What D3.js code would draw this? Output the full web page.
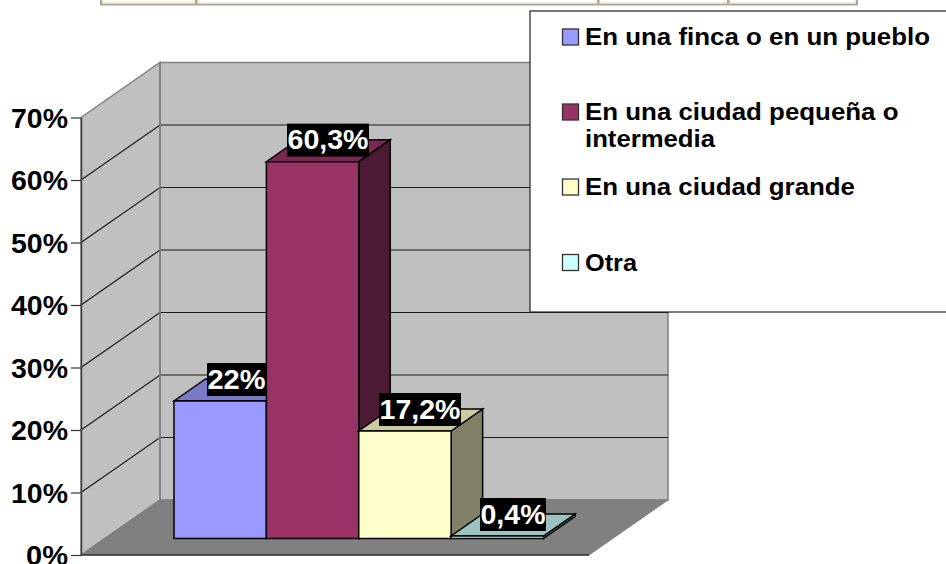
<!DOCTYPE html>
<html>
<head>
<meta charset="utf-8">
<script src="https://cdnjs.cloudflare.com/ajax/libs/d3/7.8.5/d3.min.js"></script>
<style>
html,body{margin:0;padding:0;background:#fff;overflow:hidden}
svg{display:block}
text{font-family:"Liberation Sans",Arial,sans-serif;font-weight:bold}
</style>
</head>
<body>
<script>
const categories = ["En una finca o en un pueblo", "En una ciudad pequeña o intermedia", "En una ciudad grande", "Otra"];
const values = [22, 60.3, 17.2, 0.4];
const valueLabels = ["22%", "60,3%", "17,2%", "0,4%"];
const faceColors = ["#9999ff", "#993366", "#ffffcc", "#ccffff"];
const topColors = ["#7a7ac8", "#7a2952", "#cbcba3", "#9cc2c2"];
const sideColors = ["#4d4d80", "#4d1a33", "#808066", "#668080"];
const legendLines = [["En una finca o en un pueblo"], ["En una ciudad pequeña o", "intermedia"], ["En una ciudad grande"], ["Otra"]];
const ticks = [0, 10, 20, 30, 40, 50, 60, 70];

const W = 946, H = 564;
const svg = d3.select("body").append("svg").attr("width", W).attr("height", H);
const y = d3.scaleLinear().domain([0, 70]).range([555, 117.5]);
const x = d3.scaleBand().domain(categories).range([174, 543.5]).padding(0);
const wall = {x0: 81, x1: 589, dx: 79, dy: -55};
const barDepth = {dx: 31.5, dy: -22};
const barBase = -16.5;
const line = d3.line();
const poly = (pts, fill, stroke, sw) => svg.append("path")
  .attr("d", line(pts) + "Z").attr("fill", fill)
  .attr("stroke", stroke || "none").attr("stroke-width", sw || 0).attr("stroke-linejoin", "miter");

// browser table fragment at the top
svg.append("rect").attr("x", 101).attr("y", -4).attr("width", 756).attr("height", 8.5).attr("fill", "#efebdc").attr("stroke", "#a8a796").attr("stroke-width", 2);
svg.append("rect").attr("x", 103).attr("y", -4).attr("width", 752).attr("height", 6).attr("fill", "#fff");
[[103, 90], [199, 397], [600, 124], [730, 124]].forEach(([a, w]) => {
  svg.append("rect").attr("x", a).attr("y", -2).attr("width", w).attr("height", 5).attr("fill", a === 103 ? "#fdfbf0" : "#fff").attr("stroke", "#ebe8d8").attr("stroke-width", 1);
});
[195, 597, 727].forEach(a => svg.append("rect").attr("x", a).attr("y", 0).attr("width", 2.5).attr("height", 3.5).attr("fill", "#a8a796"));

// walls and floor
const y0 = y(0), yT = y(70);
poly([[wall.x0 + wall.dx, yT + wall.dy], [wall.x1 + wall.dx, yT + wall.dy], [wall.x1 + wall.dx, y0 + wall.dy], [wall.x0 + wall.dx, y0 + wall.dy]], "#c0c0c0", "#808080", 1.5);
poly([[wall.x0, yT], [wall.x0 + wall.dx, yT + wall.dy], [wall.x0 + wall.dx, y0 + wall.dy], [wall.x0, y0]], "#c0c0c0", "#808080", 1.5);
poly([[wall.x0, y0], [wall.x1, y0], [wall.x1 + wall.dx, y0 + wall.dy], [wall.x0 + wall.dx, y0 + wall.dy]], "#808080", "#808080", 1);

// gridlines
ticks.filter(t => t > 0 && t < 70).forEach(t => {
  svg.append("path").attr("fill", "none").attr("stroke", "#1a1a1a").attr("stroke-width", 1.2)
    .attr("d", line([[wall.x0, y(t)], [wall.x0 + wall.dx, y(t) + wall.dy], [wall.x1 + wall.dx, y(t) + wall.dy]]));
});
svg.append("line").attr("x1", wall.x0 + wall.dx).attr("x2", wall.x0 + wall.dx).attr("y1", yT + wall.dy).attr("y2", y0 + wall.dy).attr("stroke", "#808080").attr("stroke-width", 1.5);
svg.append("line").attr("x1", wall.x0).attr("x2", wall.x1).attr("y1", y0).attr("y2", y0).attr("stroke", "#000").attr("stroke-width", 1.2);

// axis
const axis = d3.axisLeft(y).tickValues(ticks).tickFormat(d => d + "%").tickSize(10).tickSizeOuter(0).tickPadding(3);
const gAxis = svg.append("g").attr("transform", `translate(${wall.x0},0)`).call(axis);
gAxis.select(".domain").attr("stroke", "#404040").attr("stroke-width", 1.5);
gAxis.selectAll("line").attr("stroke", "#333").attr("stroke-width", 1.2);
gAxis.selectAll("text").attr("font-size", 27).attr("fill", "#000").attr("textLength", 57).attr("lengthAdjust", "spacingAndGlyphs").attr("dy", "0.36em");
gAxis.selectAll(".tick").filter(d => d === 0).select("text").attr("textLength", 42).attr("dy", "0.34em");

// bars
const bw = x.bandwidth();
categories.forEach((c, i) => {
  const xl = x(c), xr = xl + bw;
  const yb = y(0) + barBase, yt = y(values[i]) + barBase;
  const d = barDepth;
  poly([[xr, yb], [xr + d.dx, yb + d.dy], [xr + d.dx, yt + d.dy], [xr, yt]], sideColors[i], "#000", 1.5);
  poly([[xl, yt], [xr, yt], [xr + d.dx, yt + d.dy], [xl + d.dx, yt + d.dy]], topColors[i], "#000", 1.5);
  poly([[xl, yb], [xr, yb], [xr, yt], [xl, yt]], faceColors[i], "#000", 1.5);
});

// data labels
const labelWidths = [59, 82, 82, 66];
const labelCx = [236.5, 328, 420, 513];
categories.forEach((c, i) => {
  const top = y(values[i]) + barBase - 38;
  const cx = labelCx[i], w = labelWidths[i];
  svg.append("rect").attr("x", cx - w / 2).attr("y", top).attr("width", w).attr("height", 33).attr("fill", "#000");
  svg.append("text").attr("x", cx).attr("y", top + 25.5).attr("text-anchor", "middle").attr("fill", "#fff").attr("font-size", 28)
    .attr("textLength", w - 1).attr("lengthAdjust", "spacingAndGlyphs").text(valueLabels[i]);
});

// legend
svg.append("rect").attr("x", 530).attr("y", 11).attr("width", 430).attr("height", 301).attr("fill", "#fff").attr("stroke", "#222").attr("stroke-width", 1.2);
const legendY = [37, 112, 187, 262.5];
const legendW = [[345], [313.5, 130], [270], [52]];
legendLines.forEach((lines, i) => {
  svg.append("rect").attr("x", 562.5).attr("y", legendY[i] - 8).attr("width", 16).attr("height", 16).attr("fill", faceColors[i]).attr("stroke", "#333").attr("stroke-width", 1.3);
  lines.forEach((t, j) => {
    svg.append("text").attr("x", 585).attr("y", legendY[i] + 8 + j * 26.7).attr("font-size", 24).attr("fill", "#000")
      .attr("textLength", legendW[i][j]).attr("lengthAdjust", "spacingAndGlyphs").text(t);
  });
});
</script>
</body>
</html>
